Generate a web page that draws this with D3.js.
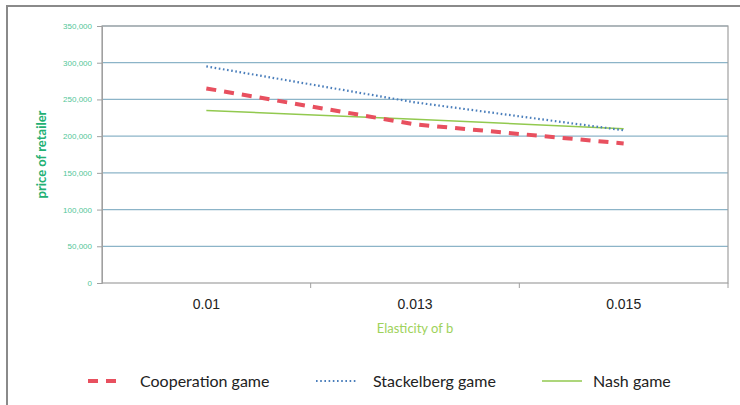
<!DOCTYPE html>
<html>
<head>
<meta charset="utf-8">
<script src="https://cdn.jsdelivr.net/npm/d3@7"></script>
<style>
  body { margin: 0; background: #fff; }
  svg { display: block; font-family: Lato, "Open Sans", sans-serif; }
</style>
</head>
<body>
<div class="chart"></div>
<script>
// values
const elasticity = ['0.01', '0.013', '0.015']
const cooperation = [265000, 216000, 190000]
const stackelberg = [295000, 246000, 208000]
const nash = [235000, 223000, 210000]
const yTicks = [0, 50000, 100000, 150000, 200000, 250000, 300000, 350000]

const series = [
  { name: 'Cooperation game', values: cooperation, color: '#e8505f', width: 4, dash: '10,8' },
  { name: 'Stackelberg game', values: stackelberg, color: '#4a7ebb', width: 2.2, dash: '1.6,2.6' },
  { name: 'Nash game', values: nash, color: '#92c94f', width: 1.5, dash: null }
]

const width = 740, height = 405
const margin = { top: 26, right: 12, bottom: 122, left: 102 }

const svg = d3.select('.chart')
  .append('svg')
  .attr('width', width)
  .attr('height', height)

// outer frame
svg.append('rect')
  .attr('x', 7).attr('y', 6)
  .attr('width', 760).attr('height', 420)
  .attr('fill', 'none')
  .attr('stroke', '#8a8a8a')
  .attr('stroke-width', 2)

const x = d3.scaleBand()
  .domain(elasticity)
  .range([margin.left, width - margin.right])

const y = d3.scaleLinear()
  .domain([0, 350000])
  .range([height - margin.bottom, margin.top])

const plotB = y(0), plotT = y(350000)

// gridlines
svg.append('g')
  .selectAll('line')
  .data(yTicks.filter(d => d > 0))
  .enter()
  .append('line')
  .attr('x1', margin.left).attr('x2', width - margin.right)
  .attr('y1', d => y(d)).attr('y2', d => y(d))
  .attr('stroke', '#8cb4c8')
  .attr('stroke-width', 1.2)

// plot border
svg.append('rect')
  .attr('x', margin.left).attr('y', plotT)
  .attr('width', width - margin.right - margin.left)
  .attr('height', plotB - plotT)
  .attr('fill', 'none')
  .attr('stroke', '#a0a0a0')
  .attr('stroke-width', 1.2)

// y axis
const yAxis = svg.append('g')
  .attr('transform', `translate(${margin.left},0)`)
  .call(d3.axisLeft(y).tickValues(yTicks).tickSize(5).tickPadding(5)
    .tickFormat(d => d === 0 ? '0' : d3.format(',')(d)))
yAxis.select('.domain').attr('stroke', '#a0a0a0')
yAxis.selectAll('.tick line').attr('stroke', '#a0a0a0')
yAxis.selectAll('.tick text')
  .attr('fill', '#52c698')
  .style('font-size', '8px')

// x axis
const xAxis = svg.append('g')
  .attr('transform', `translate(0,${plotB})`)
  .call(d3.axisBottom(x).tickSize(0).tickPadding(16))
xAxis.select('.domain').remove()
xAxis.selectAll('.tick text')
  .attr('fill', '#222')
  .style('font-size', '14px')

// band separators on x axis
svg.append('g')
  .selectAll('line')
  .data(elasticity.slice(1).concat(['end']))
  .enter()
  .append('line')
  .attr('x1', d => d === 'end' ? width - margin.right : x(d))
  .attr('x2', d => d === 'end' ? width - margin.right : x(d))
  .attr('y1', plotB).attr('y2', plotB + 5)
  .attr('stroke', '#a0a0a0')

// axis titles
svg.append('text')
  .attr('transform', `translate(46,${(plotT + plotB) / 2}) rotate(-90)`)
  .attr('text-anchor', 'middle')
  .attr('fill', '#22b073')
  .style('font-size', '13px')
  .style('font-weight', 'bold')
  .text('price of retailer')

svg.append('text')
  .attr('x', x('0.013') + x.bandwidth() / 2)
  .attr('y', plotB + 50)
  .attr('text-anchor', 'middle')
  .attr('fill', '#9ed25a')
  .style('font-size', '13px')
  .text('Elasticity of b')

// lines
const line = d3.line()
  .x((d, i) => x(elasticity[i]) + x.bandwidth() / 2)
  .y(d => y(d))

svg.append('g')
  .selectAll('path')
  .data(series.slice().reverse())
  .enter()
  .append('path')
  .attr('d', d => line(d.values))
  .attr('fill', 'none')
  .attr('stroke', d => d.color)
  .attr('stroke-width', d => d.width)
  .attr('stroke-dasharray', d => d.dash)

// legend
const legendX = [88, 316, 542]
const legend = svg.append('g')
  .selectAll('g')
  .data(series)
  .enter()
  .append('g')
  .attr('transform', (d, i) => `translate(${legendX[i]},381)`)

legend.append('line')
  .attr('x1', 0).attr('x2', (d, i) => i === 0 ? 33 : 40)
  .attr('y1', 0).attr('y2', 0)
  .attr('stroke', d => d.color)
  .attr('stroke-width', d => d.width)
  .attr('stroke-dasharray', d => d.dash)

legend.append('text')
  .attr('x', (d, i) => i === 0 ? 52 : (i === 1 ? 57 : 51))
  .attr('y', 6)
  .attr('fill', '#222')
  .style('font-size', '16px')
  .text(d => d.name)
</script>
</body>
</html>
